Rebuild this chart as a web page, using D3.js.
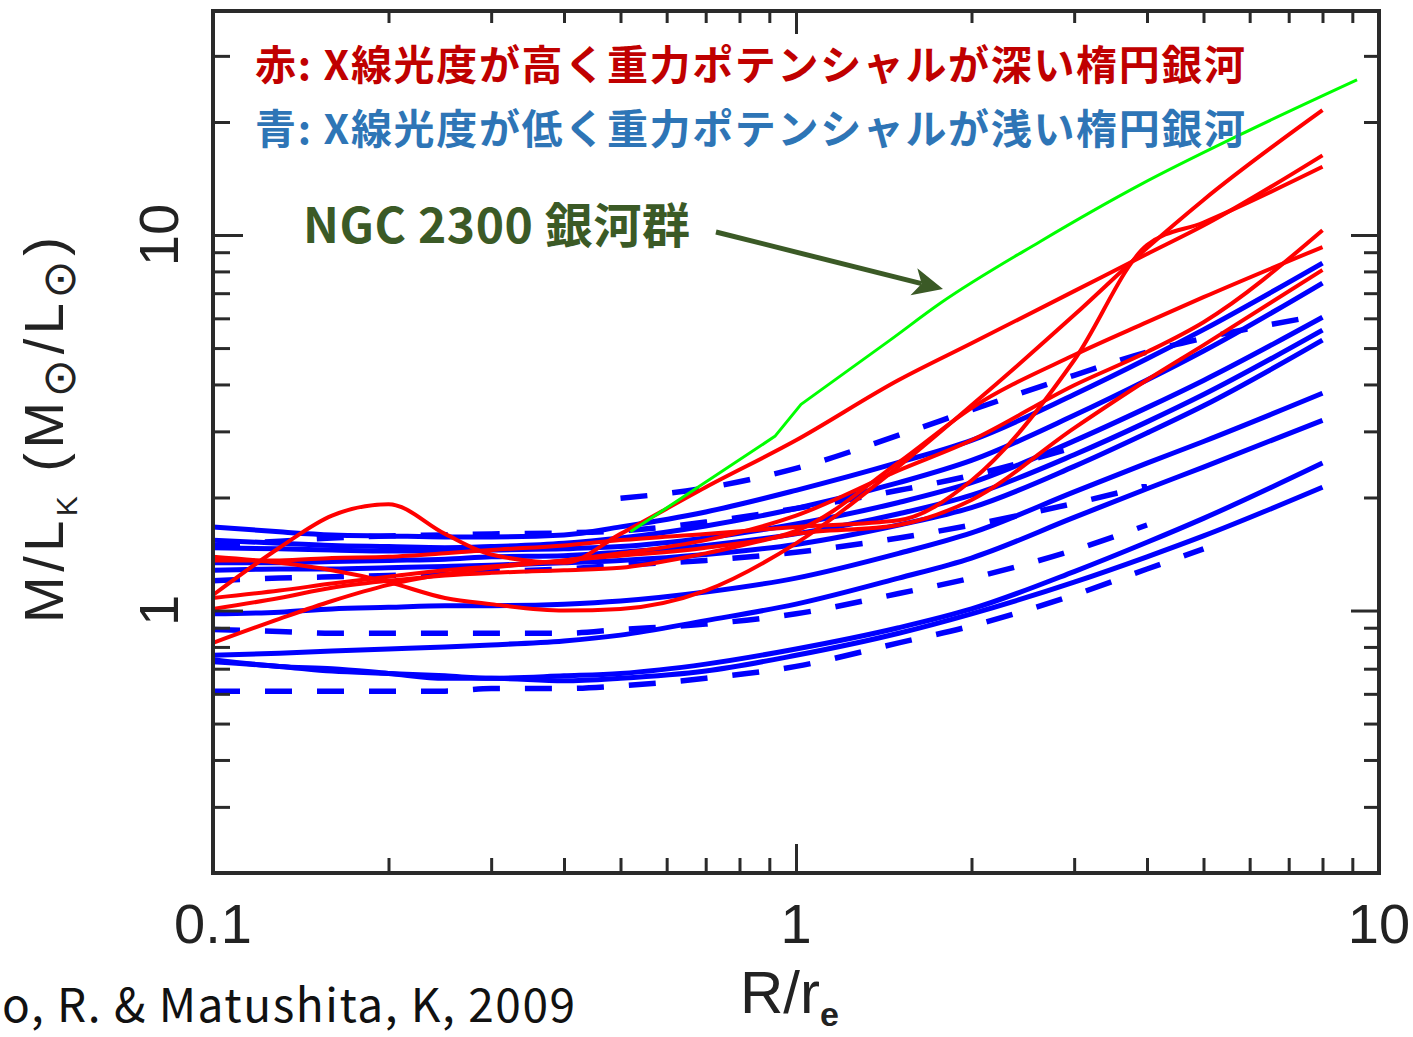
<!DOCTYPE html>
<html>
<head>
<meta charset="utf-8">
<script src="https://cdn.jsdelivr.net/npm/d3@7"></script>
<style>
    body { margin: 0; background: #fff; }
    svg { display: block; }
</style>
</head>
<body>
<div id="chart"></div>
<script>
// radius grid (R / r_e) shared by every galaxy profile
var radii = [0.1, 0.13, 0.16, 0.2, 0.25, 0.3, 0.4, 0.5, 0.7, 1, 1.5, 2, 3, 4, 5, 8];

// red: X-ray bright, deep potential (M/L_K at each radius)
var redProfiles = [
    [1.10, 1.47, 1.79, 1.92, 1.60, 1.41, 1.34, 1.60, 2.13, 2.84, 4.11, 5.15, 7.09, 8.90, 10.6, 16.3],
    [1.39, 1.34, 1.28, 1.19, 1.08, 1.04, 1.00, 1.01, 1.13, 1.51, 2.42, 3.52, 6.12, 9.23, 12.4, 21.5],
    [1.36, 1.36, 1.38, 1.39, 1.42, 1.45, 1.49, 1.54, 1.60, 1.67, 1.74, 2.22, 4.64, 9.40, 10.8, 15.2],
    [0.82, 0.95, 1.06, 1.17, 1.25, 1.30, 1.36, 1.42, 1.54, 1.79, 2.36, 2.84, 3.98, 4.88, 5.86, 10.3],
    [1.08, 1.13, 1.18, 1.23, 1.28, 1.31, 1.36, 1.40, 1.47, 1.63, 2.48, 3.46, 4.79, 5.86, 6.83, 9.29],
    [1.01, 1.08, 1.15, 1.20, 1.24, 1.26, 1.28, 1.30, 1.42, 1.60, 1.69, 1.97, 3.06, 4.11, 5.09, 8.07]
];

// blue solid: X-ray faint, shallow potential
var blueSolidProfiles = [
    [1.67, 1.62, 1.59, 1.58, 1.57, 1.57, 1.59, 1.67, 1.83, 2.09, 2.48, 2.84, 3.76, 4.68, 5.60, 8.42],
    [1.54, 1.51, 1.49, 1.48, 1.47, 1.48, 1.51, 1.56, 1.68, 1.87, 2.19, 2.51, 3.31, 4.11, 4.91, 7.45],
    [1.47, 1.46, 1.45, 1.44, 1.44, 1.45, 1.46, 1.48, 1.56, 1.70, 1.94, 2.19, 2.83, 3.47, 4.10, 6.04],
    [1.34, 1.34, 1.35, 1.36, 1.37, 1.39, 1.40, 1.43, 1.49, 1.60, 1.81, 2.03, 2.60, 3.18, 3.76, 5.58],
    [1.28, 1.29, 1.29, 1.30, 1.31, 1.32, 1.34, 1.36, 1.41, 1.50, 1.69, 1.88, 2.42, 2.97, 3.51, 5.25],
    [0.98, 0.99, 1.01, 1.02, 1.03, 1.03, 1.04, 1.06, 1.12, 1.22, 1.42, 1.61, 2.07, 2.47, 2.82, 3.79],
    [0.76, 0.77, 0.78, 0.79, 0.80, 0.81, 0.83, 0.86, 0.94, 1.04, 1.22, 1.38, 1.77, 2.11, 2.41, 3.21],
    [0.73, 0.71, 0.69, 0.68, 0.67, 0.66, 0.67, 0.68, 0.72, 0.79, 0.90, 1.01, 1.27, 1.52, 1.76, 2.47],
    [0.74, 0.71, 0.70, 0.68, 0.66, 0.66, 0.65, 0.66, 0.69, 0.76, 0.87, 0.98, 1.19, 1.39, 1.58, 2.13]
];

// blue dashed profiles (null = not measured there)
var blueDashedProfiles = [
    [0.61, 0.61, 0.61, 0.61, 0.61, 0.62, 0.62, 0.63, 0.66, 0.71, 0.82, 0.91, 1.10, 1.29, 1.46, null],
    [0.89, 0.88, 0.87, 0.87, 0.87, 0.87, 0.87, 0.89, 0.92, 0.98, 1.11, 1.22, 1.45, 1.69, null, null],
    [1.20, 1.22, 1.23, 1.24, 1.26, 1.27, 1.29, 1.32, 1.36, 1.43, 1.56, 1.69, 1.93, 2.15, null, null],
    [null, null, null, null, null, null, null, 1.99, 2.12, 2.39, 2.93, 3.42, 4.23, 4.88, 5.31, 6.12],
    [1.49, 1.53, 1.56, 1.58, 1.59, 1.60, 1.61, 1.63, 1.72, 1.87, 2.09, 2.29, 2.72, null, null, null]
];

// NGC 2300 group profile (first three points joined straight, the rest smooth)
var ngcRadii = [0.52, 0.92, 1.02, 1.45, 1.77, 2.62, 3.89, 5.78, 9.17];
var ngcML = [1.62, 2.91, 3.54, 5.25, 6.59, 9.6, 13.6, 18.5, 25.9];

// axis ticks
var xMajor = [0.1, 1, 10];
var xTickLabels = ["0.1", "1", "10"];
var xMinor = [0.2, 0.3, 0.4, 0.5, 0.6, 0.7, 0.8, 0.9, 2, 3, 4, 5, 6, 7, 8, 9];
var yMajor = [1, 10];
var yTickLabels = ["1", "10"];
var yMinor = [0.3, 0.4, 0.5, 0.6, 0.7, 0.8, 0.9, 2, 3, 4, 5, 6, 7, 8, 9, 20, 30];

// annotation texts
var redNote = "赤: X線光度が高く重力ポテンシャルが深い楕円銀河";
var blueNote = "青: X線光度が低く重力ポテンシャルが浅い楕円銀河";
var ngcNote = "NGC 2300 銀河群";
var citation = "o, R. & Matushita, K, 2009";

drawChart();

function drawChart() {
    var width = 1413, height = 1037;
    var padLeft = 213, padRight = 1379, padTop = 11, padBottom = 873;

    var svg = d3.select("#chart").append("svg")
        .attr("width", width)
        .attr("height", height);

    var x = d3.scaleLog().domain([0.1, 10]).range([padLeft, padRight]);
    var y = d3.scaleLog().domain([0.2, 39.5]).range([padBottom, padTop]);

    var line = d3.line()
        .defined(d => d[1] != null)
        .x(d => x(d[0]))
        .y(d => y(d[1]))
        .curve(d3.curveMonotoneX);

    function pairs(vals) {
        return radii.map((r, i) => [r, vals[i]]);
    }

    var plot = svg.append("g");

    // blue solid
    plot.selectAll(".blueSolid")
        .data(blueSolidProfiles)
        .enter()
        .append("path")
        .attr("class", "blueSolid")
        .attr("d", d => line(pairs(d)))
        .style("fill", "none")
        .style("stroke", "#0000ff")
        .style("stroke-width", 5);

    // blue dashed
    plot.selectAll(".blueDashed")
        .data(blueDashedProfiles)
        .enter()
        .append("path")
        .attr("class", "blueDashed")
        .attr("d", d => line(pairs(d)))
        .style("fill", "none")
        .style("stroke", "#0000ff")
        .style("stroke-width", 5.5)
        .style("stroke-dasharray", "27,25");

    // red
    plot.selectAll(".red")
        .data(redProfiles)
        .enter()
        .append("path")
        .attr("class", "red")
        .attr("d", d => line(pairs(d)))
        .style("fill", "none")
        .style("stroke", "#ff0000")
        .style("stroke-width", 4);

    // NGC 2300 (green): straight start with a kink, then smooth
    var ngc = ngcRadii.map((r, i) => [r, ngcML[i]]);
    var straight = d3.line().x(d => x(d[0])).y(d => y(d[1]));
    plot.append("path")
        .attr("d", straight(ngc.slice(0, 3)) + line(ngc.slice(2)).replace(/^M/, "L"))
        .style("fill", "none")
        .style("stroke", "#00ff00")
        .style("stroke-width", 3)
        .style("stroke-linejoin", "round");

    // frame
    svg.append("rect")
        .attr("x", padLeft)
        .attr("y", padTop)
        .attr("width", padRight - padLeft)
        .attr("height", padBottom - padTop)
        .style("fill", "none")
        .style("stroke", "#2a2a2a")
        .style("stroke-width", 4);

    // ticks on all four sides, pointing inward
    function ticks(axis, values, size, transform) {
        var g = svg.append("g")
            .attr("transform", transform)
            .call(axis.tickValues(values).tickSize(size).tickFormat(""));
        g.select(".domain").remove();
        g.selectAll("line").style("stroke", "#2a2a2a").style("stroke-width", 3);
    }
    ticks(d3.axisBottom(x), xMinor, -15, "translate(0," + padBottom + ")");
    ticks(d3.axisBottom(x), [1], -29, "translate(0," + padBottom + ")");
    ticks(d3.axisTop(x), xMinor, -12, "translate(0," + padTop + ")");
    ticks(d3.axisTop(x), [1], -23, "translate(0," + padTop + ")");
    ticks(d3.axisLeft(y), yMinor, -17, "translate(" + padLeft + ",0)");
    ticks(d3.axisLeft(y), yMajor, -30, "translate(" + padLeft + ",0)");
    ticks(d3.axisRight(y), yMinor, -15, "translate(" + padRight + ",0)");
    ticks(d3.axisRight(y), yMajor, -28, "translate(" + padRight + ",0)");

    // tick labels
    svg.selectAll(".xlab")
        .data(xMajor)
        .enter()
        .append("text")
        .attr("class", "xlab")
        .attr("x", d => x(d))
        .attr("y", 943)
        .attr("text-anchor", "middle")
        .style("font-family", "'Liberation Sans', Arial, sans-serif")
        .style("font-size", "56px")
        .style("fill", "#222")
        .text((d, i) => xTickLabels[i]);

    svg.selectAll(".ylab")
        .data(yMajor)
        .enter()
        .append("text")
        .attr("class", "ylab")
        .attr("transform", d => "translate(178," + y(d) + ") rotate(-90)")
        .attr("text-anchor", "middle")
        .style("font-family", "'Liberation Sans', Arial, sans-serif")
        .style("font-size", "56px")
        .style("fill", "#222")
        .text((d, i) => yTickLabels[i]);

    // y axis title
    var yt = svg.append("text")
        .attr("transform", "translate(63,430) rotate(-90)")
        .attr("text-anchor", "middle")
        .attr("textLength", 386)
        .attr("lengthAdjust", "spacing")
        .style("font-family", "'Liberation Sans', Arial, sans-serif")
        .style("font-size", "56px")
        .style("fill", "#222");
    yt.append("tspan").text("M/L");
    yt.append("tspan").attr("dy", 14).style("font-size", "30px").text("K");
    yt.append("tspan").attr("dy", -14).text(" (M");
    yt.append("tspan").attr("dy", 12).style("font-size", "46px").style("font-family", "'DejaVu Sans', sans-serif").text("⊙");
    yt.append("tspan").attr("dy", -12).text("/L");
    yt.append("tspan").attr("dy", 12).style("font-size", "46px").style("font-family", "'DejaVu Sans', sans-serif").text("⊙");
    yt.append("tspan").attr("dy", -12).text(")");

    // x axis title
    var xt = svg.append("text")
        .attr("x", 740)
        .attr("y", 1013)
        .style("font-family", "'Liberation Sans', Arial, sans-serif")
        .style("font-size", "60px")
        .style("fill", "#222");
    xt.append("tspan").text("R/r");
    xt.append("tspan").attr("dy", 13).style("font-size", "34px").style("font-weight", "bold").text("e");

    // notes
    function note(txt, xPos, yPos, color, size, len) {
        svg.append("text")
            .attr("x", xPos)
            .attr("y", yPos)
            .attr("textLength", len)
            .attr("lengthAdjust", "spacing")
            .style("font-family", "'Noto Sans CJK JP', sans-serif")
            .style("font-weight", "bold")
            .style("font-size", size + "px")
            .style("fill", color)
            .text(txt);
    }
    note(redNote, 255, 80, "#c00000", 41, 990);
    note(blueNote, 255, 144, "#2e75b6", 41, 990);
    note(ngcNote, 303, 243, "#3b5a26", 48, 387);

    // arrow pointing at the NGC 2300 curve
    var arrowFrom = [0.729, 10.19], arrowTo = [1.787, 7.18];
    var ax0 = x(arrowFrom[0]), ay0 = y(arrowFrom[1]);
    var ax1 = x(arrowTo[0]), ay1 = y(arrowTo[1]);
    var dx = ax1 - ax0, dy = ay1 - ay0, len = Math.sqrt(dx * dx + dy * dy);
    var ux = dx / len, uy = dy / len;
    svg.append("line")
        .attr("x1", ax0).attr("y1", ay0)
        .attr("x2", ax1 - ux * 22).attr("y2", ay1 - uy * 22)
        .style("stroke", "#3b5a26")
        .style("stroke-width", 5);
    var hb = [ax1 - ux * 30, ay1 - uy * 30];
    svg.append("polygon")
        .attr("points", [
            [ax1, ay1],
            [hb[0] - uy * 14, hb[1] + ux * 14],
            [ax1 - ux * 22, ay1 - uy * 22],
            [hb[0] + uy * 14, hb[1] - ux * 14]
        ].map(p => p.join(",")).join(" "))
        .style("fill", "#3b5a26");

    // citation (cut at left edge as in the slide)
    svg.append("text")
        .attr("x", 2)
        .attr("y", 1022)
        .attr("textLength", 573)
        .attr("lengthAdjust", "spacing")
        .style("font-family", "'Noto Sans CJK JP', sans-serif")
        .style("font-size", "46px")
        .style("fill", "#111")
        .text(citation);
}
</script>
</body>
</html>
